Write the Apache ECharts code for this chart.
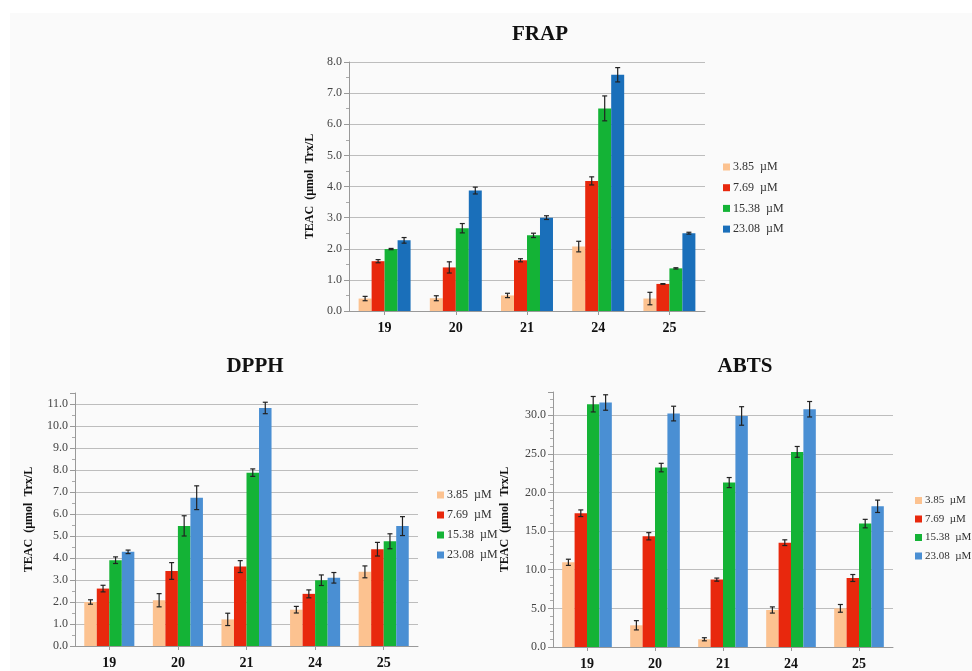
<!DOCTYPE html>
<html><head><meta charset="utf-8">
<script src="https://cdn.jsdelivr.net/npm/echarts@6/dist/echarts.min.js"></script>
<style>html,body{margin:0;padding:0;background:#fff}#c{width:972px;height:671px}</style>
</head><body><div id="c"></div>
<script>
const categories = ['19','20','21','24','25'];
const seriesNames = ['3.85  \u00b5M','7.69  \u00b5M','15.38  \u00b5M','23.08  \u00b5M'];

// FRAP values and error (±)
const frap385 = [0.40,0.41,0.50,2.07,0.40];
const frap769 = [1.60,1.40,1.63,4.18,0.87];
const frap1538 = [1.99,2.66,2.43,6.51,1.37];
const frap2308 = [2.27,3.87,3.00,7.59,2.50];
const frap385Err = [0.07,0.08,0.07,0.17,0.20];
const frap769Err = [0.05,0.18,0.05,0.13,0.01];
const frap1538Err = [0.02,0.15,0.07,0.40,0.02];
const frap2308Err = [0.09,0.11,0.06,0.23,0.03];

// DPPH
const dpph385 = [2.00,2.08,1.21,1.65,3.37];
const dpph769 = [2.61,3.41,3.61,2.37,4.40];
const dpph1538 = [3.90,5.46,7.88,2.99,4.76];
const dpph2308 = [4.28,6.74,10.82,3.10,5.45];
const dpph385Err = [0.10,0.30,0.28,0.15,0.27];
const dpph769Err = [0.15,0.38,0.27,0.18,0.31];
const dpph1538Err = [0.15,0.46,0.17,0.24,0.34];
const dpph2308Err = [0.08,0.54,0.26,0.24,0.43];

// ABTS
const abts385 = [10.96,2.81,1.00,4.79,5.00];
const abts769 = [17.31,14.33,8.72,13.50,8.93];
const abts1538 = [31.42,23.22,21.28,25.25,15.97];
const abts2308 = [31.64,30.21,29.90,30.77,18.21];
const abts385Err = [0.40,0.60,0.20,0.40,0.50];
const abts769Err = [0.43,0.47,0.20,0.37,0.45];
const abts1538Err = [1.00,0.55,0.65,0.70,0.55];
const abts2308Err = [1.00,0.95,1.20,1.00,0.80];

const frapTicks = {min:0,max:8,interval:1};
const dpphTicks = {min:0,max:11.5,interval:1};
const abtsTicks = {min:0,max:33,interval:5};

const serif = '"Liberation Serif","Times New Roman",serif';
const cPeach = '#fcc290', cRed = '#e8280d', cGreen = '#14b336', cBlueDark = '#1a6fba', cBlueLight = '#4a8fd3';

const charts = [
  {vals:[frap385,frap769,frap1538,frap2308], errs:[frap385Err,frap769Err,frap1538Err,frap2308Err], ticks:frapTicks, colors:[cPeach,cRed,cGreen,cBlueDark],
   grid:{left:349,right:267,top:62,bottom:360}, nameGap:33, minorSplit:2,
   legend:{left:718,top:156,gap:8.7,fs:12}, title:{text:'FRAP',x:540,y:35}},
  {vals:[dpph385,dpph769,dpph1538,dpph2308], errs:[dpph385Err,dpph769Err,dpph1538Err,dpph2308Err], ticks:dpphTicks, colors:[cPeach,cRed,cGreen,cBlueLight],
   grid:{left:75,right:554,top:393,bottom:25}, nameGap:40, minorSplit:2,
   legend:{left:432,top:484,gap:8,fs:12}, title:{text:'DPPH',x:255,y:367}},
  {vals:[abts385,abts769,abts1538,abts2308], errs:[abts385Err,abts769Err,abts1538Err,abts2308Err], ticks:abtsTicks, colors:[cPeach,cRed,cGreen,cBlueLight],
   grid:{left:553,right:79,top:392,bottom:24}, nameGap:42, minorSplit:5,
   legend:{left:910,top:490,gap:7.5,fs:11}, title:{text:'ABTS',x:745,y:367}}
];

const GAP = 0.27;
const option = {
  backgroundColor:'#ffffff',
  animation:false,
  graphic:[{type:'rect',shape:{x:10,y:13,width:962,height:658},style:{fill:'#fafafa'},z:-10,silent:true}],
  grid:[], xAxis:[], yAxis:[], legend:[], series:[]
};
charts.forEach((ch,k)=>{
  option.graphic.push({type:'text',x:ch.title.x,y:ch.title.y,style:{text:ch.title.text,font:'bold 21px '+serif,fill:'#111',textAlign:'center',textVerticalAlign:'middle'}});
  option.grid.push(Object.assign({containLabel:false},ch.grid));
  option.xAxis.push({type:'category',gridIndex:k,data:categories,
    axisLine:{lineStyle:{color:'#999'}},axisTick:{show:true,alignWithLabel:true,length:4,lineStyle:{color:'#999'}},
    axisLabel:{fontFamily:serif,fontWeight:'bold',fontSize:14,color:'#111',margin:10}});
  option.yAxis.push({type:'value',gridIndex:k,min:ch.ticks.min,max:ch.ticks.max,interval:ch.ticks.interval,
    name:'TEAC  (\u00b5mol  Trx/L',nameLocation:'middle',nameGap:ch.nameGap,nameRotate:90,
    nameTextStyle:{fontFamily:serif,fontWeight:'bold',fontSize:12,color:'#111'},
    axisLine:{show:true,lineStyle:{color:'#999'}},axisTick:{show:true,length:5,lineStyle:{color:'#999'}},
    minorTick:{show:true,splitNumber:ch.minorSplit,length:3,lineStyle:{color:'#aaa'}},
    axisLabel:{fontFamily:serif,fontSize:12,color:'#444',margin:7,showMaxLabel:ch.ticks.max%ch.ticks.interval===0,formatter:v=>v.toFixed(1)},
    splitLine:{show:true,showMaxLine:ch.ticks.max%ch.ticks.interval===0,lineStyle:{color:'#bdbdbd',width:1}}});
  option.legend.push({orient:'vertical',left:ch.legend.left,top:ch.legend.top,itemWidth:7,itemHeight:7,itemGap:ch.legend.gap,icon:'rect',
    textStyle:{fontFamily:serif,fontSize:ch.legend.fs,color:'#333',padding:[0,0,0,-2]},selectedMode:false,
    data:seriesNames.map((n,i)=>({name:n,itemStyle:{color:ch.colors[i]}}))});
  ch.vals.forEach((arr,i)=>{
    option.series.push({type:'bar',name:seriesNames[i],xAxisIndex:k,yAxisIndex:k,data:arr,
      barGap:'0%',barCategoryGap:(GAP*100)+'%',itemStyle:{color:ch.colors[i]}});
  });
  ch.vals.forEach((arr,i)=>{
    const errArr = ch.errs[i];
    option.series.push({type:'custom',xAxisIndex:k,yAxisIndex:k,z:5,
      data:arr.map((v,j)=>[j,v,errArr[j]]),
      renderItem:function(params,api){
        const x=api.value(0),v=api.value(1),e=api.value(2);
        const band=api.size([1,0])[0];
        const gw=band*(1-GAP), bw=gw/4;
        const cx=api.coord([x,v])[0]-gw/2+bw*(i+0.5);
        const yt=api.coord([x,v+e])[1], yb=api.coord([x,v-e])[1];
        const st={stroke:'#222',lineWidth:1.2};
        return {type:'group',children:[
          {type:'line',shape:{x1:cx,y1:yt,x2:cx,y2:yb},style:st},
          {type:'line',shape:{x1:cx-2.5,y1:yt,x2:cx+2.5,y2:yt},style:st},
          {type:'line',shape:{x1:cx-2.5,y1:yb,x2:cx+2.5,y2:yb},style:st}
        ]};
      }});
  });
});
const chart = echarts.init(document.getElementById('c'),null,{renderer:'canvas'});
chart.setOption(option);
</script></body></html>
